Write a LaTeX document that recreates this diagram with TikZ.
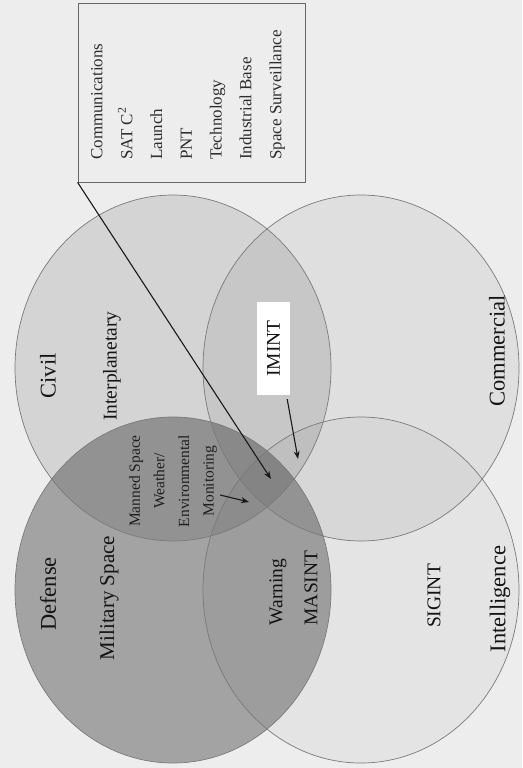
\documentclass[tikz,border=0pt]{standalone}
\usepackage{fontspec}
\setmainfont{Liberation Serif}
\usetikzlibrary{shapes.geometric,arrows.meta,calc}
\begin{document}
\begin{tikzpicture}[x=1pt,y=-1pt,
  setshape/.style={ellipse, minimum width=316pt, minimum height=346pt, inner sep=0pt},
  ring/.style={draw=black!52, line width=0.7pt},
  lbl/.style={rotate=90, text=black!92, inner sep=1pt},
  big/.style={font=\fontsize{22.5}{26}\selectfont},
  mid/.style={font=\fontsize{19.5}{22}\selectfont},
  arr/.style={line width=1.1pt, draw=black!90, -{Stealth[length=8pt,width=6pt]}}
]
\fill[black!7] (0,0) rectangle (522,768);
\useasboundingbox (0,0) rectangle (522,768);

% set fills
\node[setshape, fill=black, fill opacity=0.10] (civil) at (173,368) {};
\node[setshape, fill=black, fill opacity=0.31] (defense) at (173,590) {};
\node[setshape, fill=black, fill opacity=0.06] (commercial) at (361,368) {};
\node[setshape, fill=black, fill opacity=0.035] (intel) at (361,590) {};
% outlines
\node[setshape, ring] at (civil) {};
\node[setshape, ring] at (defense) {};
\node[setshape, ring] at (commercial) {};
\node[setshape, ring] at (intel) {};

% list box
\node[draw=black!60, line width=0.8pt, minimum width=227pt, minimum height=179pt, inner sep=0pt] (box) at (191.5,92.5) {};
\node[rotate=90, anchor=north west, align=left, inner sep=0pt, text=black!82,
      font=\fontsize{17}{29.8}\selectfont] (list) at (91,160)
  {Communications\\SAT C\textsuperscript{2}\\Launch\\PNT\\Technology\\Industrial Base\\Space Surveillance};

% labels
\node[lbl, big] (lcivil) at (48,376) {Civil};
\node[lbl, mid] (linter) at (112,366) {Interplanetary};
\node[lbl, big] (ldef) at (48,594) {Defense};
\node[lbl, font=\fontsize{21}{24}\selectfont] (lmil) at (109,598) {Military Space};
\node[lbl, big] (lcom) at (497,351) {Commercial};
\node[lbl, big] (lint) at (500,599) {Intelligence};
\node[lbl, mid] (lsig) at (434,596) {SIGINT};
\node[lbl, mid] (lwarn) at (278,592) {Warning};
\node[lbl, mid] (lmas) at (311,588) {MASINT};
\node[lbl, mid, fill=white, minimum width=93pt, minimum height=33pt] (imint) at (273.5,348.5) {IMINT};
\node[rotate=90, align=center, text=black!88, inner sep=1pt,
      font=\fontsize{15.5}{24.6}\selectfont] (manned) at (173,481)
  {Manned Space\\Weather/\\Environmental\\Monitoring};

% arrows
\coordinate (tipA) at (271,479);
\coordinate (tipB) at (298,459);
\coordinate (tipC) at (249,502);
\draw[arr] (box.south west) -- (tipA);
\draw[arr] ($(imint.south west)+(-3,4)$) -- (tipB);
\draw[arr] ($(manned.south)+(2,14)$) -- (tipC);
\end{tikzpicture}
\end{document}
